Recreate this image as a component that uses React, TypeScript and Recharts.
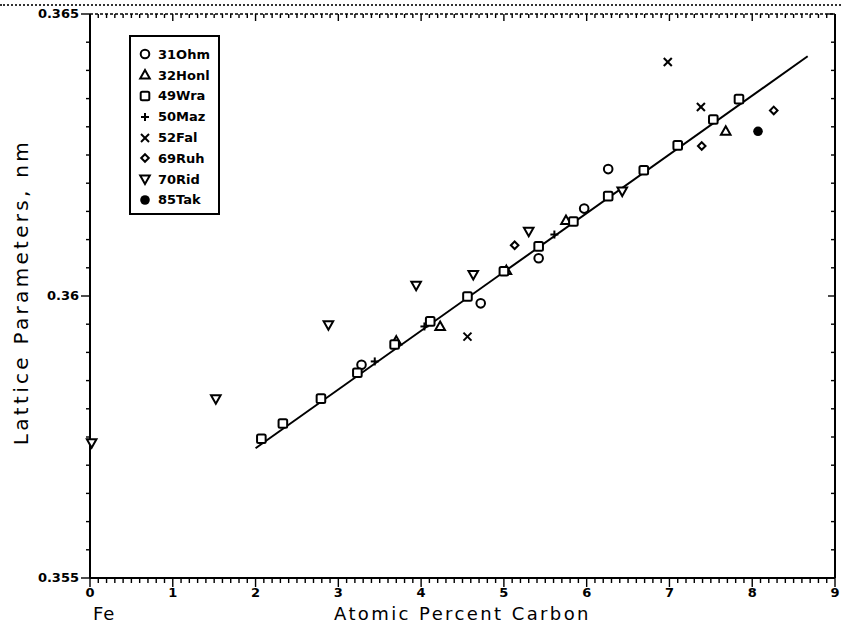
import { ScatterChart, Scatter, XAxis, YAxis, ReferenceLine, Legend } from "recharts";

// [atomic % C, lattice parameter nm]
const ohm31 = [[3.28, 0.35878], [4.72, 0.35987], [5.42, 0.36067], [5.97, 0.36155], [6.26, 0.36225]];
const honl32 = [[3.7, 0.3592], [4.23, 0.35946], [5.03, 0.36045], [5.75, 0.36134], [7.68, 0.36292]];
const wra49 = [
  [2.07, 0.35747], [2.33, 0.35774], [2.79, 0.35818], [3.23, 0.35864], [3.68, 0.35914],
  [4.11, 0.35955], [4.56, 0.35999], [5.0, 0.36044], [5.42, 0.36088], [5.84, 0.36132],
  [6.26, 0.36177], [6.69, 0.36223], [7.1, 0.36267], [7.53, 0.36313], [7.84, 0.36349],
];
const maz50 = [[3.44, 0.35884], [4.04, 0.35946], [5.61, 0.36109]];
const fal52 = [[4.56, 0.35928], [6.98, 0.36415], [7.38, 0.36335]];
const ruh69 = [[5.13, 0.3609], [7.39, 0.36266], [8.26, 0.36329]];
const rid70 = [[0.02, 0.3574], [1.52, 0.35818], [2.88, 0.35949], [3.94, 0.36019], [4.63, 0.36038], [5.3, 0.36115], [6.43, 0.36186]];
const tak85 = [[8.07, 0.36292]];

const fitLine = [{ x: 2.0, y: 0.3573 }, { x: 8.67, y: 0.36425 }];

const yMajor = [0.355, 0.36, 0.365];
const xMinor = Array.from({ length: 91 }, (_, i) => i / 10);
const yMinor = Array.from({ length: 21 }, (_, i) => +(0.355 + i * 0.0005).toFixed(4));

const series = [
  { name: "31Ohm", data: ohm31, kind: "circle" },
  { name: "32Honl", data: honl32, kind: "triangle" },
  { name: "49Wra", data: wra49, kind: "square" },
  { name: "50Maz", data: maz50, kind: "plus" },
  { name: "52Fal", data: fal52, kind: "cross" },
  { name: "69Ruh", data: ruh69, kind: "diamond" },
  { name: "70Rid", data: rid70, kind: "triangleDown" },
  { name: "85Tak", data: tak85, kind: "dot" },
];

const toPoints = (d: number[][]) => d.map(([x, y]) => ({ x, y }));

function Marker({ cx, cy, kind }: { cx: number; cy: number; kind: string }) {
  const s = { stroke: "#000", strokeWidth: 2, fill: "#fff" };
  switch (kind) {
    case "circle":
      return <circle cx={cx} cy={cy} r={4.3} {...s} />;
    case "triangle":
      return <polygon points={`${cx},${cy - 5} ${cx + 4.8},${cy + 3.5} ${cx - 4.8},${cy + 3.5}`} {...s} />;
    case "triangleDown":
      return <polygon points={`${cx},${cy + 5} ${cx + 4.8},${cy - 3.5} ${cx - 4.8},${cy - 3.5}`} {...s} />;
    case "square":
      return <rect x={cx - 4.3} y={cy - 4.3} width={8.6} height={8.6} rx={1.5} {...s} />;
    case "plus":
      return (
        <g stroke="#000" strokeWidth={2}>
          <line x1={cx - 4} y1={cy} x2={cx + 4} y2={cy} />
          <line x1={cx} y1={cy - 4} x2={cx} y2={cy + 4} />
        </g>
      );
    case "cross":
      return (
        <g stroke="#000" strokeWidth={2}>
          <line x1={cx - 4} y1={cy - 4} x2={cx + 4} y2={cy + 4} />
          <line x1={cx - 4} y1={cy + 4} x2={cx + 4} y2={cy - 4} />
        </g>
      );
    case "diamond":
      return <polygon points={`${cx},${cy - 3.8} ${cx + 3.8},${cy} ${cx},${cy + 3.8} ${cx - 3.8},${cy}`} {...s} />;
    default:
      return <circle cx={cx} cy={cy} r={4.8} fill="#000" />;
  }
}

const isInt = (v: number) => Math.abs(v - Math.round(v)) < 1e-6;
const isYMajor = (v: number) => yMajor.some((m) => Math.abs(m - v) < 1e-7);

// tick props y is axis line + 4 (tickSize), x is tick position
const bottomTick = ({ x, y, payload }: any) => {
  const major = isInt(payload.value);
  return (
    <g>
      <rect x={x - 0.7} y={y - 4} width={1.4} height={major ? 9 : 5} fill="#000" />
      {major && (
        <text x={x} y={y + 15} textAnchor="middle" fontSize={13} fontWeight="bold" fill="#000">
          {payload.value}
        </text>
      )}
    </g>
  );
};

const leftTick = ({ x, y, payload }: any) => {
  const major = isYMajor(payload.value);
  return (
    <g>
      <rect x={major ? x - 5 : x} y={y - 0.7} width={major ? 9 : 4} height={1.4} fill="#000" />
      {major && (
        <text x={x - 7} y={y + 4} textAnchor="end" fontSize={13} fontWeight="bold" fill="#000">
          {String(payload.value)}
        </text>
      )}
    </g>
  );
};

const topTick = ({ x, y, payload }: any) => {
  const major = isInt(payload.value);
  return <rect x={x - 0.7} y={y - 4} width={1.4} height={major ? 7 : 4} fill="#000" />;
};

const rightTick = ({ x, y, payload }: any) => {
  const major = isYMajor(payload.value);
  return <rect x={x + 4 - (major ? 7 : 4)} y={y - 0.7} width={major ? 7 : 4} height={1.4} fill="#000" />;
};

function LegendBox() {
  return (
    <div
      style={{
        border: "2px solid #000",
        width: 91,
        padding: "7px 0 3px 6px",
        background: "#fff",
        boxSizing: "border-box",
      }}
    >
      {series.map((s) => (
        <div key={s.name} style={{ display: "flex", alignItems: "center", height: 20.8 }}>
          <svg width={16} height={14}>
            <Marker cx={8} cy={7} kind={s.kind} />
          </svg>
          <span style={{ marginLeft: 5, fontSize: 13, fontWeight: "bold", color: "#000" }}>{s.name}</span>
        </div>
      ))}
    </div>
  );
}

export default function App() {
  return (
    <div
      style={{
        position: "absolute",
        left: 0,
        top: 0,
        width: 841,
        height: 630,
        background: "#fff",
        fontFamily: "'DejaVu Sans', sans-serif",
      }}
    >
      <div style={{ position: "absolute", left: 0, top: 4, width: 841, borderTop: "2px dotted #333" }} />
      <ScatterChart width={841} height={630} margin={{ top: 14, right: 6, bottom: 0, left: 0 }}>
        <XAxis
          xAxisId={0}
          dataKey="x"
          type="number"
          domain={[0, 9]}
          ticks={xMinor}
          interval={0}
          height={52}
          tickSize={4}
          tickMargin={0}
          tick={bottomTick}
          tickLine={false}
          axisLine={{ stroke: "#000", strokeWidth: 2 }}
        />
        <XAxis
          xAxisId="top"
          orientation="top"
          type="number"
          dataKey="x"
          domain={[0, 9]}
          ticks={xMinor}
          interval={0}
          height={1}
          mirror
          tickSize={4}
          tickMargin={0}
          tick={topTick}
          tickLine={false}
          axisLine={{ stroke: "#000", strokeWidth: 1.5, strokeDasharray: "3 2" }}
        />
        <YAxis
          yAxisId={0}
          dataKey="y"
          type="number"
          domain={[0.355, 0.365]}
          ticks={yMinor}
          interval={0}
          width={90}
          tickSize={4}
          tickMargin={0}
          tick={leftTick}
          tickLine={false}
          axisLine={{ stroke: "#000", strokeWidth: 2 }}
        />
        <YAxis
          yAxisId="right"
          orientation="right"
          type="number"
          dataKey="y"
          domain={[0.355, 0.365]}
          ticks={yMinor}
          interval={0}
          width={1}
          mirror
          tickSize={4}
          tickMargin={0}
          tick={rightTick}
          tickLine={false}
          axisLine={{ stroke: "#000", strokeWidth: 2 }}
        />
        <ReferenceLine
          xAxisId={0}
          yAxisId={0}
          segment={fitLine}
          stroke="#000"
          strokeWidth={2}
          ifOverflow="visible"
        />
        {series.map((s) => (
          <Scatter
            key={s.name}
            name={s.name}
            data={toPoints(s.data)}
            xAxisId={0}
            yAxisId={0}
            isAnimationActive={false}
            shape={(p: any) => <Marker cx={p.cx} cy={p.cy} kind={s.kind} />}
          />
        ))}
        <Scatter
          name="frame"
          data={fitLine}
          xAxisId="top"
          yAxisId="right"
          isAnimationActive={false}
          legendType="none"
          shape={() => <g />}
        />
        <Legend
          layout="vertical"
          align="center"
          verticalAlign="middle"
          wrapperStyle={{ left: 129, top: 35, width: 92, height: "auto" }}
          content={() => <LegendBox />}
        />
      </ScatterChart>
      <div style={{ position: "absolute", left: 93, top: 603, fontSize: 18, color: "#000", letterSpacing: 1 }}>Fe</div>
      <div
        style={{
          position: "absolute",
          left: 334,
          top: 603,
          fontSize: 18,
          color: "#000",
          letterSpacing: 2.4,
          whiteSpace: "nowrap",
        }}
      >
        Atomic Percent Carbon
      </div>
      <div
        style={{
          position: "absolute",
          left: 21,
          top: 292,
          transform: "translate(-50%, -50%) rotate(-90deg)",
          fontSize: 20,
          color: "#000",
          letterSpacing: 3.3,
          whiteSpace: "nowrap",
        }}
      >
        Lattice Parameters, nm
      </div>
    </div>
  );
}
